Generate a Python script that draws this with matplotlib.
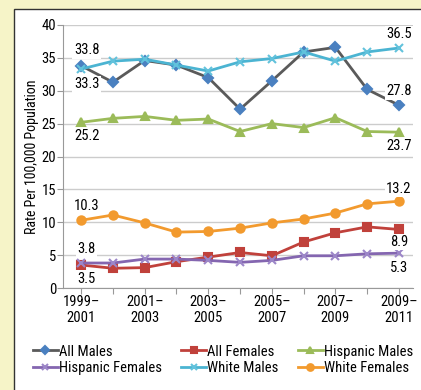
import matplotlib
matplotlib.use("Agg")
import matplotlib.pyplot as plt
from matplotlib.patches import Rectangle
from matplotlib import font_manager as fm

names = {f.name for f in fm.fontManager.ttflist}
fam = [n for n in ['Liberation Sans Narrow', 'Roboto Condensed', 'Roboto', 'Liberation Sans'] if n in names]
plt.rcParams['font.family'] = fam[:1] + ['DejaVu Sans']

periods = ["1999–\n2001", "", "2001–\n2003", "", "2003–\n2005", "", "2005–\n2007", "", "2007–\n2009", "", "2009–\n2011"]
all_males = [33.8, 31.3, 34.6, 33.9, 32.0, 27.2, 31.5, 35.9, 36.6, 30.2, 27.8]
all_females = [3.5, 3.0, 3.1, 4.0, 4.7, 5.4, 4.9, 7.0, 8.4, 9.3, 8.9]
hispanic_males = [25.2, 25.8, 26.1, 25.5, 25.7, 23.8, 25.0, 24.4, 25.9, 23.8, 23.7]
hispanic_females = [3.8, 3.8, 4.4, 4.4, 4.2, 3.9, 4.2, 4.9, 4.9, 5.2, 5.3]
white_males = [33.3, 34.5, 34.8, 33.9, 33.0, 34.4, 34.9, 35.9, 34.5, 35.9, 36.5]
white_females = [10.3, 11.1, 9.9, 8.5, 8.6, 9.1, 9.9, 10.5, 11.4, 12.8, 13.2]

fig = plt.figure(figsize=(4.21, 3.90), dpi=100)
fig.patch.set_facecolor('#f6f4c8')
panel = Rectangle((14/421, -0.01), 1.0, 1 - 9/390 + 0.01, transform=fig.transFigure,
                  facecolor='white', edgecolor='#333333', linewidth=1.0, zorder=-10)
fig.patches.append(panel)

ax = fig.add_axes([63/421, 1 - 288/390, (413 - 63)/421, (288 - 25)/390])
ax.set_zorder(1)
ax.set_facecolor('none')
x = list(range(len(periods)))

series = [
    ("All Males", all_males, '#5a5a5a', 'D', '#4a80c0', 5),
    ("All Females", all_females, '#c0413b', 's', '#c0413b', 5.5),
    ("Hispanic Males", hispanic_males, '#9bbb59', '^', '#9bbb59', 6),
    ("Hispanic Females", hispanic_females, '#8466b0', 'x', '#9c86c8', 6),
    ("White Males", white_males, '#4bb4d2', 'x', '#62c2dc', 6),
    ("White Females", white_females, '#f29a2e', 'o', '#f29a2e', 6),
]
handles = []
for name, vals, lc, mk, mc, ms in series:
    h, = ax.plot(x, vals, color=lc, lw=2.0, marker=mk, markersize=ms,
                 markerfacecolor=mc, markeredgecolor=mc, mew=1.5, label=name, zorder=3)
    handles.append(h)

ax.set_xlim(-0.57, 10.44)
ax.set_ylim(0, 40)
ax.set_yticks(range(0, 41, 5))
ax.set_xticks(x)
ax.set_xticklabels(periods)
ax.grid(axis='y', color='#cccccc', lw=1.0)
ax.set_axisbelow(True)
for s in ['top', 'right']:
    ax.spines[s].set_visible(False)
ax.spines['left'].set_color('#999999')
ax.spines['bottom'].set_color('#999999')
ax.tick_params(axis='both', labelsize=10.5, color='#999999', length=4, pad=1)
ax.set_ylabel("Rate Per 100,000 Population", fontsize=10, labelpad=2)

bb = dict(boxstyle='square,pad=0.1', facecolor='white', edgecolor='none')
def lab(i, v, dy):
    ax.annotate(f"{v:.1f}", (x[i], v), xytext=(4 if i == 0 else 0, dy), textcoords='offset points',
                ha='center', va='center', fontsize=10.5, bbox=bb, zorder=5)

lab(0, all_males[0], 11)
lab(0, white_males[0], -11)
lab(0, hispanic_males[0], -10)
lab(0, white_females[0], 10)
lab(0, hispanic_females[0], 10)
lab(0, all_females[0], -10)
lab(10, white_males[-1], 10)
lab(10, all_males[-1], 10)
lab(10, hispanic_males[-1], -10)
lab(10, white_females[-1], 9)
lab(10, all_females[-1], -9)
lab(10, hispanic_females[-1], -11)

order = [0, 3, 1, 4, 2, 5]
fig.legend([handles[i] for i in order], [handles[i].get_label() for i in order],
           loc='center', bbox_to_anchor=(0.53, 1 - 360/390), ncol=3, frameon=False,
           fontsize=10.5, handlelength=1.7, handletextpad=0.1, columnspacing=1.3,
           labelspacing=0.2, borderaxespad=0, markerscale=0.8)

fig.savefig('out.png', dpi=100, facecolor=fig.get_facecolor())
